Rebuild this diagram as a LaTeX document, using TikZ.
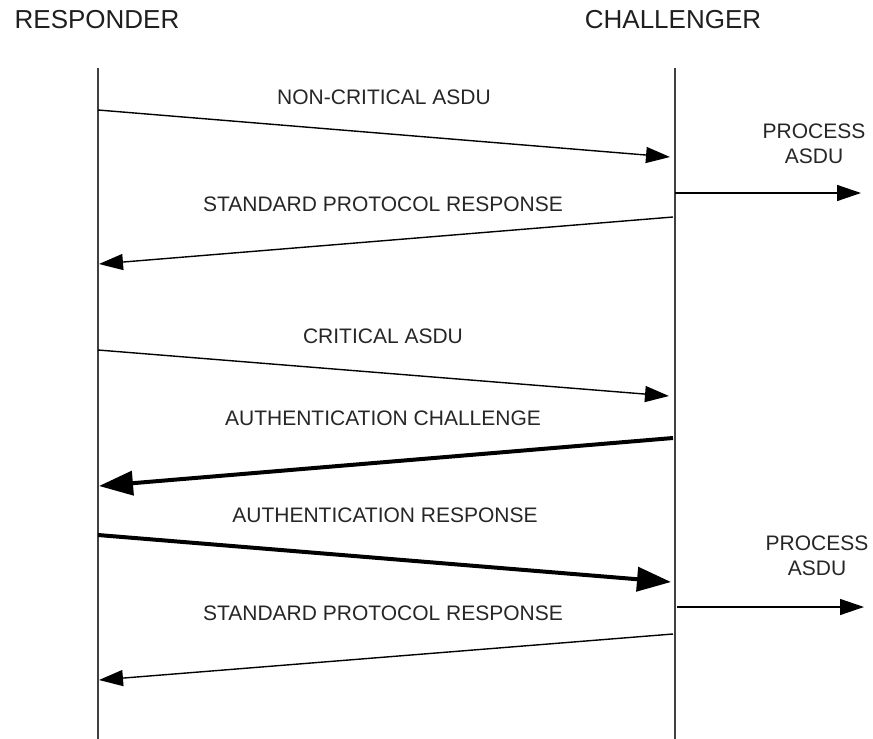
\documentclass[tikz,border=0pt]{standalone}
\usepackage{fontspec}
\setmainfont{Liberation Sans}
\usetikzlibrary{arrows.meta}
\begin{document}
\begin{tikzpicture}[x=1pt,y=-1pt,
  title/.style={font=\fontsize{26}{28}\selectfont, text=black!88, inner sep=0pt},
  lbl/.style={font=\fontsize{21}{25}\selectfont, text=black!85, inner sep=0pt, align=center},
  life/.style={draw=black!75, line width=1.6pt},
  msg/.style={line width=1.4pt, -{Triangle[length=24pt,width=16pt]}},
  bigmsg/.style={line width=4pt, -{Triangle[length=34pt,width=24pt]}}]
\useasboundingbox (0,0) rectangle (873,739);
% titles
\node[title] (resp) at (97,20) {RESPONDER};
\node[title] (chal) at (673,20) {CHALLENGER};
% lifelines
\coordinate (rtop) at (98,68);
\coordinate (rbot) at (98,739);
\coordinate (ctop) at (675,68);
\coordinate (cbot) at (675,739);
\draw[life] (rtop) -- (rbot);
\draw[life] (ctop) -- (cbot);
% message endpoints
\coordinate (m1a) at (98,110);  \coordinate (m1b) at (670,157);
\coordinate (p1a) at (675,193); \coordinate (p1b) at (861,193);
\coordinate (m2a) at (673,217); \coordinate (m2b) at (99,264);
\coordinate (m3a) at (98,350);  \coordinate (m3b) at (669,396);
\coordinate (m4a) at (673,438); \coordinate (m4b) at (99,486);
\coordinate (m5a) at (98,535);  \coordinate (m5b) at (671,582);
\coordinate (p2a) at (677,607); \coordinate (p2b) at (864,607);
\coordinate (m6a) at (673,634); \coordinate (m6b) at (99,680);
% arrows
\draw[msg] (m1a) -- (m1b);
\draw[msg] (p1a) -- (p1b);
\draw[msg] (m2a) -- (m2b);
\draw[msg] (m3a) -- (m3b);
\draw[bigmsg] (m4a) -- (m4b);
\draw[bigmsg] (m5a) -- (m5b);
\draw[msg] (p2a) -- (p2b);
\draw[msg] (m6a) -- (m6b);
% labels
\node[lbl] (l1) at (384,97) {NON-CRITICAL ASDU};
\node[lbl] (l2) at (383,204) {STANDARD PROTOCOL RESPONSE};
\node[lbl] (l3) at (383,336) {CRITICAL ASDU};
\node[lbl] (l4) at (383,418) {AUTHENTICATION CHALLENGE};
\node[lbl] (l5) at (385,515) {AUTHENTICATION RESPONSE};
\node[lbl] (l6) at (383,613) {STANDARD PROTOCOL RESPONSE};
\node[lbl] (pa1) at (814,144) {PROCESS\\ASDU};
\node[lbl] (pa2) at (817,556) {PROCESS\\ASDU};
\end{tikzpicture}
\end{document}
